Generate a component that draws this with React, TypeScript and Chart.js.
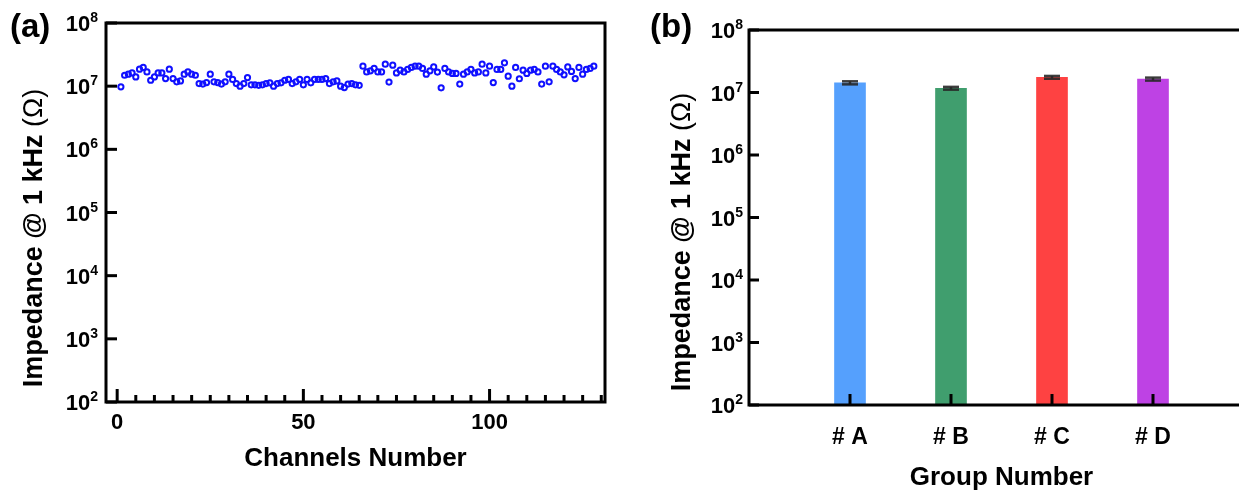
import React, { useEffect, useRef } from 'react';
import { Chart, registerables } from 'chart.js';

Chart.register(...registerables);

const FONT = "'Liberation Sans', Arial, Helvetica, sans-serif";

// Panel (a): impedance of every channel at 1 kHz, in units of 10^7 Ω
const channelNumbers = Array.from({ length: 128 }, (_, i) => i + 1);
const channelImpedance1e7 = [
  0.975, 1.49, 1.55, 1.62, 1.40, 1.86, 1.98, 1.68, 1.24, 1.40,
  1.62, 1.62, 1.32, 1.86, 1.32, 1.17, 1.21, 1.55, 1.68, 1.55,
  1.49, 1.10, 1.08, 1.14, 1.55, 1.17, 1.14, 1.08, 1.17, 1.55,
  1.28, 1.10, 1.00, 1.10, 1.37, 1.05, 1.05, 1.03, 1.05, 1.10,
  1.13, 1.00, 1.10, 1.13, 1.24, 1.28, 1.10, 1.17, 1.28, 1.05,
  1.28, 1.13, 1.28, 1.28, 1.28, 1.32, 1.10, 1.17, 1.21, 1.00,
  0.95, 1.08, 1.10, 1.05, 1.03, 2.07, 1.68, 1.75, 1.91, 1.68,
  1.68, 2.23, 1.16, 2.15, 1.62, 1.79, 1.68, 1.84, 1.98, 2.07,
  2.07, 1.91, 1.55, 1.75, 2.02, 1.67, 0.94, 1.91, 1.68, 1.59,
  1.59, 1.08, 1.55, 1.68, 1.84, 1.62, 1.68, 2.23, 1.62, 2.07,
  1.14, 1.84, 1.84, 2.34, 1.44, 1.00, 1.98, 1.31, 1.79, 1.59,
  1.79, 1.84, 1.68, 1.08, 2.07, 1.17, 2.07, 1.84, 1.68, 1.51,
  2.02, 1.71, 1.32, 1.98, 1.55, 1.84, 1.91, 2.07,
];

// Panel (b): mean impedance of each group with its error
const groupLabels = ['# A', '# B', '# C', '# D'];
const groupMean1e7 = [1.43, 1.17, 1.75, 1.64];
const groupError1e7 = [0.08, 0.06, 0.09, 0.09];
const groupColors = ['#55a0fd', '#409e6e', '#fe4242', '#be42e4'];

// Axis ticks
const decadeExponents = [2, 3, 4, 5, 6, 7, 8];
const channelMajorTicks = [0, 50, 100];
const channelMinorStep = 5;

const yTitleBold = 'Impedance @ 1 kHz ';
const yTitleNormal = '(\u03A9)';

function line(ctx: CanvasRenderingContext2D, x1: number, y1: number, x2: number, y2: number) {
  ctx.beginPath();
  ctx.moveTo(x1, y1);
  ctx.lineTo(x2, y2);
  ctx.stroke();
}

// "10" with a raised exponent, right-aligned at xRight, centred on y
function drawPower(ctx: CanvasRenderingContext2D, exp: number, xRight: number, y: number) {
  ctx.textAlign = 'left';
  ctx.textBaseline = 'alphabetic';
  ctx.font = `bold 14px ${FONT}`;
  const ew = ctx.measureText(String(exp)).width;
  ctx.font = `bold 22px ${FONT}`;
  const bw = ctx.measureText('10').width;
  ctx.fillText('10', xRight - ew - bw, y + 8);
  ctx.font = `bold 14px ${FONT}`;
  ctx.fillText(String(exp), xRight - ew, y - 1);
}

function drawYTitle(ctx: CanvasRenderingContext2D, baselineX: number, centerY: number) {
  ctx.save();
  ctx.translate(baselineX, centerY);
  ctx.rotate(-Math.PI / 2);
  ctx.textBaseline = 'alphabetic';
  ctx.textAlign = 'left';
  ctx.font = `bold 27px ${FONT}`;
  const w1 = ctx.measureText(yTitleBold).width;
  ctx.font = `27px ${FONT}`;
  const w2 = ctx.measureText(yTitleNormal).width;
  const start = -(w1 + w2) / 2;
  ctx.font = `bold 27px ${FONT}`;
  ctx.fillText(yTitleBold, start, 0);
  ctx.font = `27px ${FONT}`;
  ctx.fillText(yTitleNormal, start + w1, 0);
  ctx.restore();
}

const channelDecor = {
  id: 'channelDecor',
  afterDraw(chart: any) {
    const ctx: CanvasRenderingContext2D = chart.ctx;
    const { left, right, top, bottom } = chart.chartArea;
    const xs = chart.scales.x;
    const ys = chart.scales.y;
    ctx.save();
    ctx.strokeStyle = '#000';
    ctx.fillStyle = '#000';
    ctx.lineWidth = 3;
    ctx.lineCap = 'butt';
    ctx.strokeRect(left, top, right - left, bottom - top);

    // y ticks pointing into the plot, with power-of-ten labels
    decadeExponents.forEach((e) => {
      const y = ys.getPixelForValue(Math.pow(10, e));
      line(ctx, left, y, left + 11, y);
      drawPower(ctx, e, left - 8, y);
    });

    // x ticks: tall at the labelled values, short in between
    for (let v = 0; v <= xs.max; v += channelMinorStep) {
      const x = xs.getPixelForValue(v);
      const major = channelMajorTicks.includes(v);
      line(ctx, x, bottom, x, bottom - (major ? 13 : 7));
    }
    ctx.font = `bold 22px ${FONT}`;
    ctx.textAlign = 'center';
    ctx.textBaseline = 'middle';
    channelMajorTicks.forEach((v) => {
      ctx.fillText(String(v), xs.getPixelForValue(v), 423);
    });

    ctx.font = `bold 26px ${FONT}`;
    ctx.fillText('Channels Number', (left + right) / 2, 459);

    drawYTitle(ctx, 42, 238);

    ctx.font = `bold 33px ${FONT}`;
    ctx.textAlign = 'left';
    ctx.textBaseline = 'alphabetic';
    ctx.fillText('(a)', 10, 37);
    ctx.restore();
  },
};

const groupDecor = {
  id: 'groupDecor',
  afterDatasetsDraw(chart: any) {
    const ctx: CanvasRenderingContext2D = chart.ctx;
    const xs = chart.scales.x;
    const ys = chart.scales.y;
    ctx.save();
    ctx.strokeStyle = 'rgba(40,40,40,0.9)';
    ctx.lineWidth = 2.5;
    groupMean1e7.forEach((m, i) => {
      const x = xs.getPixelForValue(i + 1);
      const yHi = ys.getPixelForValue((m + groupError1e7[i]) * 1e7);
      const yLo = ys.getPixelForValue((m - groupError1e7[i]) * 1e7);
      line(ctx, x, yHi, x, yLo);
      line(ctx, x - 8, yHi, x + 8, yHi);
      line(ctx, x - 8, yLo, x + 8, yLo);
    });
    ctx.restore();
  },
  afterDraw(chart: any) {
    const ctx: CanvasRenderingContext2D = chart.ctx;
    const { left, top, bottom } = chart.chartArea;
    const xs = chart.scales.x;
    const ys = chart.scales.y;
    ctx.save();
    ctx.strokeStyle = '#000';
    ctx.fillStyle = '#000';
    ctx.lineWidth = 3;
    // open frame: left, bottom and top edges
    ctx.beginPath();
    ctx.moveTo(chart.width, top);
    ctx.lineTo(left, top);
    ctx.lineTo(left, bottom);
    ctx.lineTo(chart.width, bottom);
    ctx.stroke();

    decadeExponents.forEach((e) => {
      const y = ys.getPixelForValue(Math.pow(10, e));
      line(ctx, left, y, left + 10, y);
      drawPower(ctx, e, left - 6, y);
    });

    ctx.font = `bold 23px ${FONT}`;
    ctx.textAlign = 'center';
    ctx.textBaseline = 'middle';
    groupLabels.forEach((lab, i) => {
      const x = xs.getPixelForValue(i + 1);
      line(ctx, x, bottom, x, bottom - 11);
      ctx.fillText(lab, x, 438);
    });

    ctx.font = `bold 26px ${FONT}`;
    ctx.fillText('Group Number', xs.getPixelForValue(2.5), 478);

    drawYTitle(ctx, 690 - 620, 242);

    ctx.font = `bold 33px ${FONT}`;
    ctx.textAlign = 'left';
    ctx.textBaseline = 'alphabetic';
    ctx.fillText('(b)', 650 - 620, 37);
    ctx.restore();
  },
};

export default function App() {
  const leftRef = useRef<HTMLCanvasElement | null>(null);
  const rightRef = useRef<HTMLCanvasElement | null>(null);

  useEffect(() => {
    const left = new Chart(leftRef.current as HTMLCanvasElement, {
      type: 'scatter',
      data: {
        datasets: [
          {
            data: channelNumbers.map((c, i) => ({ x: c, y: channelImpedance1e7[i] * 1e7 })),
            pointStyle: 'circle',
            pointRadius: 2.6,
            pointBorderWidth: 2,
            borderColor: '#1010ff',
            backgroundColor: 'rgba(255,255,255,0)',
          },
        ],
      },
      options: {
        responsive: false,
        animation: false,
        devicePixelRatio: 1,
        events: [],
        layout: { padding: { left: 106, right: 15, top: 23, bottom: 90 } },
        plugins: { legend: { display: false }, tooltip: { enabled: false } },
        scales: {
          x: { type: 'linear', display: false, min: -3, max: 131 },
          y: { type: 'logarithmic', display: false, min: 1e2, max: 1e8 },
        },
      },
      plugins: [channelDecor],
    } as any);

    const right = new Chart(rightRef.current as HTMLCanvasElement, {
      type: 'bar',
      data: {
        datasets: [
          {
            data: groupMean1e7.map((m, i) => ({ x: i + 1, y: m * 1e7 })),
            backgroundColor: groupColors,
            borderWidth: 0,
            barThickness: 31,
          },
        ],
      },
      options: {
        responsive: false,
        animation: false,
        devicePixelRatio: 1,
        events: [],
        layout: { padding: { left: 129, right: 66, top: 30, bottom: 87 } },
        plugins: { legend: { display: false }, tooltip: { enabled: false } },
        scales: {
          x: { type: 'linear', display: false, min: 0, max: 5, offset: false },
          y: { type: 'logarithmic', display: false, min: 1e2, max: 1e8 },
        },
      },
      plugins: [groupDecor],
    } as any);

    return () => {
      left.destroy();
      right.destroy();
    };
  }, []);

  return (
    <div
      style={{
        position: 'fixed',
        left: 0,
        top: 0,
        width: 1239,
        height: 492,
        overflow: 'hidden',
        background: '#fff',
      }}
    >
      <canvas ref={leftRef} width={620} height={492} style={{ position: 'absolute', left: 0, top: 0 }} />
      <canvas ref={rightRef} width={700} height={492} style={{ position: 'absolute', left: 620, top: 0 }} />
    </div>
  );
}
